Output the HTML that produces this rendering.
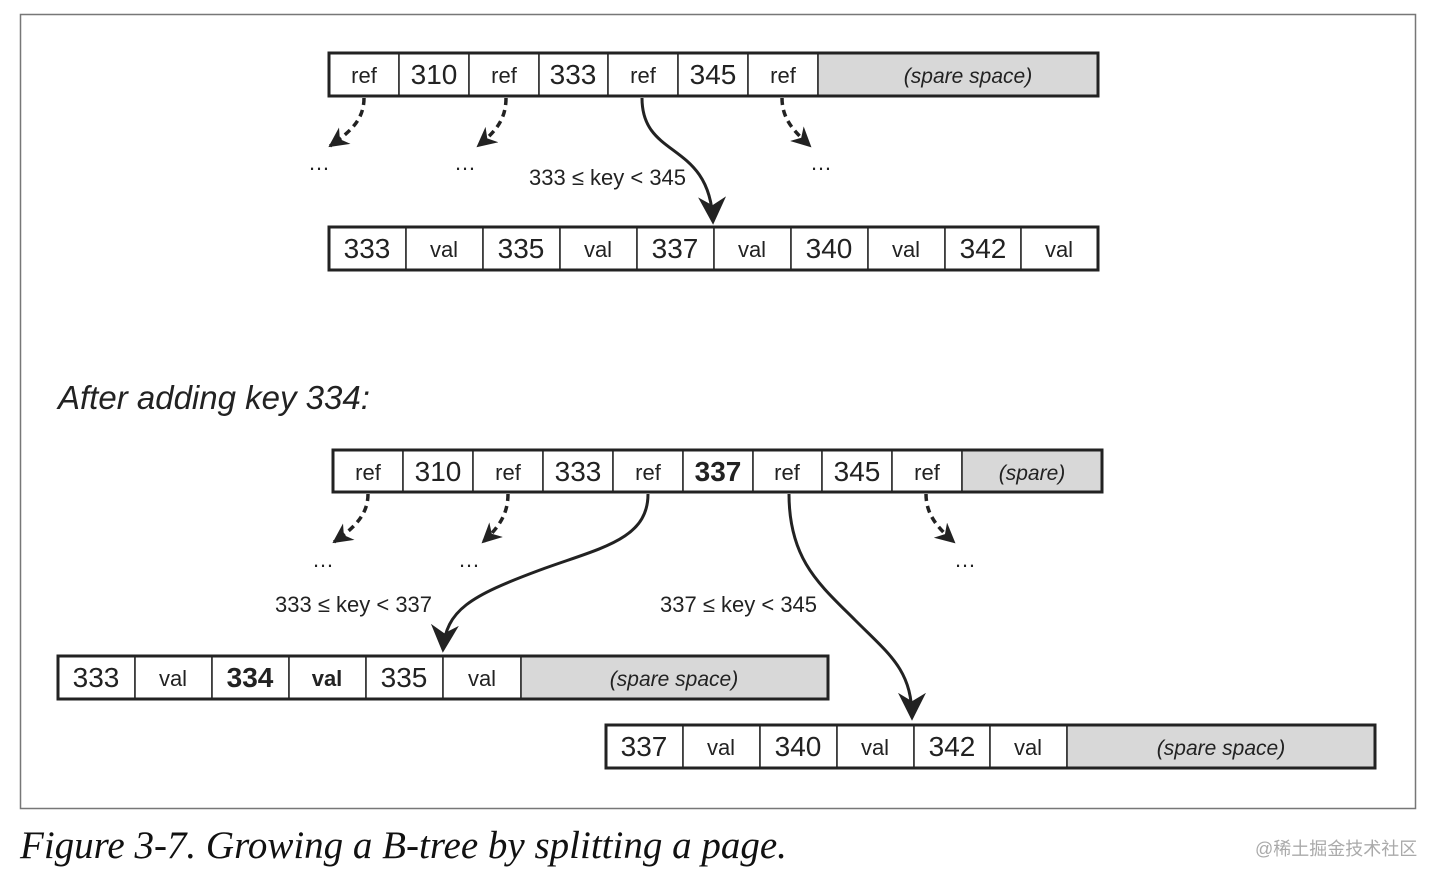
<!DOCTYPE html>
<html><head><meta charset="utf-8"><style>
html,body{margin:0;padding:0;background:#fff;width:1440px;height:883px;overflow:hidden}
svg{display:block}
.n{font-family:"Liberation Sans",sans-serif;font-size:28px;fill:#222;text-anchor:middle}
.r{font-family:"Liberation Sans",sans-serif;font-size:22px;fill:#222;text-anchor:middle}
.s{font-family:"Liberation Sans",sans-serif;font-size:21px;font-style:italic;fill:#222;text-anchor:middle}
.b{font-weight:bold}
.l{font-family:"Liberation Sans",sans-serif;font-size:22px;fill:#222}
.cell{fill:#fff;stroke:#222;stroke-width:1.5}
.out{fill:none;stroke:#222;stroke-width:3}
.sp{fill:#d8d8d8;stroke:#222;stroke-width:1.5}
.dash{fill:none;stroke:#222;stroke-width:3.5;stroke-dasharray:7 5}
.sol{fill:none;stroke:#222;stroke-width:3}
</style></head><body>
<svg width="1440" height="883" viewBox="0 0 1440 883" xmlns="http://www.w3.org/2000/svg">
<defs>
<marker id="ah" viewBox="0 0 10 10" refX="9" refY="5" markerWidth="10" markerHeight="10" orient="auto" markerUnits="userSpaceOnUse"><path d="M0,0 L10,5 L0,10 L3,5 z" fill="#222"/></marker>
<marker id="ahb" viewBox="0 0 10 10" refX="9" refY="5" markerWidth="28" markerHeight="28" orient="auto" markerUnits="userSpaceOnUse"><path d="M0,0 L10,5 L0,10 L3,5 z" fill="#222"/></marker>
<marker id="ahs" viewBox="0 0 10 10" refX="9" refY="5" markerWidth="20" markerHeight="20" orient="auto" markerUnits="userSpaceOnUse"><path d="M0,0 L10,5 L0,10 L3,5 z" fill="#222"/></marker>
</defs>
<rect x="20.5" y="14.5" width="1395" height="794" fill="none" stroke="#777" stroke-width="1.5"/>

<g>
<rect class="cell" x="329" y="53" width="70" height="43"/><text class="r" x="364" y="83">ref</text>
<rect class="cell" x="399" y="53" width="70" height="43"/><text class="n" x="434" y="84">310</text>
<rect class="cell" x="469" y="53" width="70" height="43"/><text class="r" x="504" y="83">ref</text>
<rect class="cell" x="539" y="53" width="69" height="43"/><text class="n" x="573" y="84">333</text>
<rect class="cell" x="608" y="53" width="70" height="43"/><text class="r" x="643" y="83">ref</text>
<rect class="cell" x="678" y="53" width="70" height="43"/><text class="n" x="713" y="84">345</text>
<rect class="cell" x="748" y="53" width="70" height="43"/><text class="r" x="783" y="83">ref</text>
<rect class="sp" x="818" y="53" width="280" height="43"/><text class="s" x="968" y="83">(spare space)</text>
<rect class="out" x="329" y="53" width="769" height="43"/>
</g>
<path class="dash" d="M364,98 C364,120 350,132 330,146" marker-end="url(#ahs)"/>
<path class="dash" d="M506,98 C506,120 495,132 478,146" marker-end="url(#ahs)"/>
<path class="dash" d="M782,98 C782,120 795,132 810,146" marker-end="url(#ahs)"/>
<path class="sol" d="M642,98 C642,160 710,140 713,222" marker-end="url(#ahb)"/>
<text class="l" x="308" y="170">…</text><text class="l" x="454" y="170">…</text><text class="l" x="810" y="170">…</text>
<text class="l" x="529" y="185">333 ≤ key &lt; 345</text>

<g>
<rect class="cell" x="329" y="227" width="77" height="43"/><text class="n" x="367" y="258">333</text>
<rect class="cell" x="406" y="227" width="77" height="43"/><text class="r" x="444" y="257">val</text>
<rect class="cell" x="483" y="227" width="77" height="43"/><text class="n" x="521" y="258">335</text>
<rect class="cell" x="560" y="227" width="77" height="43"/><text class="r" x="598" y="257">val</text>
<rect class="cell" x="637" y="227" width="77" height="43"/><text class="n" x="675" y="258">337</text>
<rect class="cell" x="714" y="227" width="77" height="43"/><text class="r" x="752" y="257">val</text>
<rect class="cell" x="791" y="227" width="77" height="43"/><text class="n" x="829" y="258">340</text>
<rect class="cell" x="868" y="227" width="77" height="43"/><text class="r" x="906" y="257">val</text>
<rect class="cell" x="945" y="227" width="76" height="43"/><text class="n" x="983" y="258">342</text>
<rect class="cell" x="1021" y="227" width="77" height="43"/><text class="r" x="1059" y="257">val</text>
<rect class="out" x="329" y="227" width="769" height="43"/>
</g>

<text x="58" y="409" style="font-family:'Liberation Sans',sans-serif;font-size:33px;font-style:italic;fill:#222">After adding key 334:</text>

<g>
<rect class="cell" x="333" y="450" width="70" height="42"/><text class="r" x="368" y="480">ref</text>
<rect class="cell" x="403" y="450" width="70" height="42"/><text class="n" x="438" y="481">310</text>
<rect class="cell" x="473" y="450" width="70" height="42"/><text class="r" x="508" y="480">ref</text>
<rect class="cell" x="543" y="450" width="70" height="42"/><text class="n" x="578" y="481">333</text>
<rect class="cell" x="613" y="450" width="70" height="42"/><text class="r" x="648" y="480">ref</text>
<rect class="cell" x="683" y="450" width="70" height="42"/><text class="n b" x="718" y="481">337</text>
<rect class="cell" x="753" y="450" width="69" height="42"/><text class="r" x="787" y="480">ref</text>
<rect class="cell" x="822" y="450" width="70" height="42"/><text class="n" x="857" y="481">345</text>
<rect class="cell" x="892" y="450" width="70" height="42"/><text class="r" x="927" y="480">ref</text>
<rect class="sp" x="962" y="450" width="140" height="42"/><text class="s" x="1032" y="480">(spare)</text>
<rect class="out" x="333" y="450" width="769" height="42"/>
</g>
<path class="dash" d="M368,494 C368,515 354,528 334,542" marker-end="url(#ahs)"/>
<path class="dash" d="M508,494 C508,515 498,528 483,542" marker-end="url(#ahs)"/>
<path class="dash" d="M926,494 C926,515 938,528 954,542" marker-end="url(#ahs)"/>
<path class="sol" d="M648,494 C648,540 600,548 540,570 C470,596 446,610 443,650" marker-end="url(#ahb)"/>
<path class="sol" d="M789,494 C789,560 820,585 855,620 C890,655 912,670 912,718" marker-end="url(#ahb)"/>
<text class="l" x="312" y="567">…</text><text class="l" x="458" y="567">…</text><text class="l" x="954" y="567">…</text>
<text class="l" x="275" y="612">333 ≤ key &lt; 337</text>
<text class="l" x="660" y="612">337 ≤ key &lt; 345</text>

<g>
<rect class="cell" x="58" y="656" width="77" height="43"/><text class="n" x="96" y="687">333</text>
<rect class="cell" x="135" y="656" width="77" height="43"/><text class="r" x="173" y="686">val</text>
<rect class="cell" x="212" y="656" width="77" height="43"/><text class="n b" x="250" y="687">334</text>
<rect class="cell" x="289" y="656" width="77" height="43"/><text class="r b" x="327" y="686">val</text>
<rect class="cell" x="366" y="656" width="77" height="43"/><text class="n" x="404" y="687">335</text>
<rect class="cell" x="443" y="656" width="78" height="43"/><text class="r" x="482" y="686">val</text>
<rect class="sp" x="521" y="656" width="307" height="43"/><text class="s" x="674" y="686">(spare space)</text>
<rect class="out" x="58" y="656" width="770" height="43"/>
</g>

<g>
<rect class="cell" x="606" y="725" width="77" height="43"/><text class="n" x="644" y="756">337</text>
<rect class="cell" x="683" y="725" width="77" height="43"/><text class="r" x="721" y="755">val</text>
<rect class="cell" x="760" y="725" width="77" height="43"/><text class="n" x="798" y="756">340</text>
<rect class="cell" x="837" y="725" width="77" height="43"/><text class="r" x="875" y="755">val</text>
<rect class="cell" x="914" y="725" width="76" height="43"/><text class="n" x="952" y="756">342</text>
<rect class="cell" x="990" y="725" width="77" height="43"/><text class="r" x="1028" y="755">val</text>
<rect class="sp" x="1067" y="725" width="308" height="43"/><text class="s" x="1221" y="755">(spare space)</text>
<rect class="out" x="606" y="725" width="769" height="43"/>
</g>

<text x="20" y="858" style="font-family:'Liberation Serif',serif;font-size:39px;font-style:italic;fill:#111">Figure 3-7. Growing a B-tree by splitting a page.</text>
<text x="1255" y="855" style="font-family:'Liberation Sans','Noto Sans CJK SC',sans-serif;font-size:18px;fill:#aaa">@稀土掘金技术社区</text>
</svg>
</body></html>
